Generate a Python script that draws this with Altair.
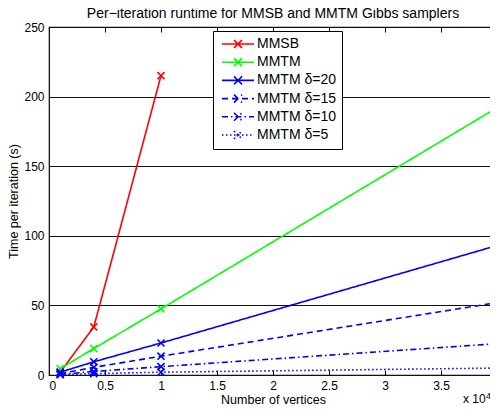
import altair as alt
import pandas as pd

vertices = [1000, 4000, 10000, 40000]
series_names = ["MMSB", "MMTM", "MMTM δ=20", "MMTM δ=15", "MMTM δ=10", "MMTM δ=5"]
mmsb = [2.0, 34.5, 215.0]
mmtm = [4.5, 19.0, 47.5, 192.0]
d20 = [2.0, 9.5, 23.0, 93.0]
d15 = [1.0, 5.5, 13.5, 52.0]
d10 = [0.5, 2.5, 6.0, 22.5]
d5 = [0.2, 1.0, 2.0, 5.0]
colors = ["#ff0000", "#00ff00", "#0000ff", "#0000ff", "#0000ff", "#0000ff"]
dashes = [[1, 0], [1, 0], [1, 0], [6, 4], [6, 3, 1.5, 3], [1.5, 2.5]]
x_ticks = [0, 5000, 10000, 15000, 20000, 25000, 30000, 35000, 40000]
y_ticks = [0, 50, 100, 150, 200, 250]
title_text = "Per\u2212iteration runtime for MMSB and MMTM Gibbs samplers"

rows = []
for name, vals in zip(series_names, [mmsb, mmtm, d20, d15, d10, d5]):
    for x, v in zip(vertices, vals):
        rows.append({"series": name, "vertices": x, "time": v})
df = pd.DataFrame(rows)

W, H = 448, 348
FONT = "Liberation Sans"

xscale = alt.Scale(domain=[0, 40000], nice=False, zero=False)
yscale = alt.Scale(domain=[0, 250], nice=False)

legend = alt.Legend(
    title=None, orient="none", legendX=164, legendY=4,
    symbolType="M-1,0L7,0M2,-1L4,1M2,1L4,-1",
    symbolSize=64, symbolStrokeWidth=1.6, symbolFillColor="transparent",
    labelFont=FONT, labelFontSize=14, labelColor="black", labelOffset=24,
    fillColor="white", strokeColor="black", padding=6, rowPadding=2.2,
)

color = alt.Color("series:N", sort=series_names,
                  scale=alt.Scale(domain=series_names, range=colors), legend=legend)
dash = alt.StrokeDash("series:N", sort=series_names,
                      scale=alt.Scale(domain=series_names, range=dashes), legend=legend)

x_axis = alt.Axis(title="Number of vertices", values=x_ticks,
                  labelExpr="datum.value / 10000", grid=False, domain=False,
                  ticks=True, tickSize=5, offset=-5, tickColor="black",
                  labelPadding=5, titlePadding=2, titleFontSize=12.5)
y_axis = alt.Axis(title="Time per iteration (s)", values=y_ticks, grid=True,
                  gridColor="#111111", gridWidth=1, gridOpacity=1,
                  ticks=False, domain=False, labelPadding=5, titlePadding=3,
                  titleFontSize=12.5)

base = alt.Chart(df)
lines = base.mark_line(strokeWidth=1.6, clip=False).encode(
    x=alt.X("vertices:Q", scale=xscale, axis=x_axis),
    y=alt.Y("time:Q", scale=yscale, axis=y_axis),
    color=color,
    strokeDash=dash,
    order="vertices:Q",
)
points = base.mark_point(shape="M-1,-1L1,1M-1,1L1,-1", size=50, strokeWidth=1.6,
                         filled=False, opacity=1, clip=False).encode(
    x=alt.X("vertices:Q", scale=xscale, axis=None),
    y=alt.Y("time:Q", scale=yscale, axis=y_axis),
    color=alt.Color("series:N", sort=series_names,
                    scale=alt.Scale(domain=series_names, range=colors)),
)
top_axis = base.mark_point(opacity=0).encode(
    x=alt.X("vertices:Q", scale=xscale,
            axis=alt.Axis(orient="top", values=x_ticks, labels=False, title=None,
                          domain=False, grid=False, ticks=True, tickSize=5,
                          offset=-5, tickColor="black")),
)
one = alt.Data(values=[{"k": 1}])
title_mark = alt.Chart(one).mark_text(text=title_text, font=FONT, fontSize=14,
                                      align="center", baseline="alphabetic",
                                      color="black").encode(
    x=alt.value(W / 2), y=alt.value(-9))
exp_main = alt.Chart(one).mark_text(text="x 10", font=FONT, fontSize=12, align="left",
                                    baseline="alphabetic", color="black").encode(
    x=alt.value(W - 34), y=alt.value(H + 28))
exp_sup = alt.Chart(one).mark_text(text="4", font=FONT, fontSize=9, align="left",
                                   baseline="alphabetic", color="black").encode(
    x=alt.value(W - 11), y=alt.value(H + 24))

chart = alt.layer(lines, points, top_axis, title_mark, exp_main, exp_sup).resolve_axis(
    x="independent"
).properties(
    width=W, height=H,
    autosize=alt.AutoSizeParams(type="none"),
    padding={"left": 41, "top": 19, "right": -7, "bottom": 30},
    background="white",
).configure_view(stroke="black", strokeWidth=1.2).configure_axis(
    labelFont=FONT, labelFontSize=12, labelColor="black",
    titleFont=FONT, titleFontSize=13, titleFontWeight="normal", titleColor="black",
)

chart.save("out.html", embed_options={"renderer": "svg", "actions": False})
